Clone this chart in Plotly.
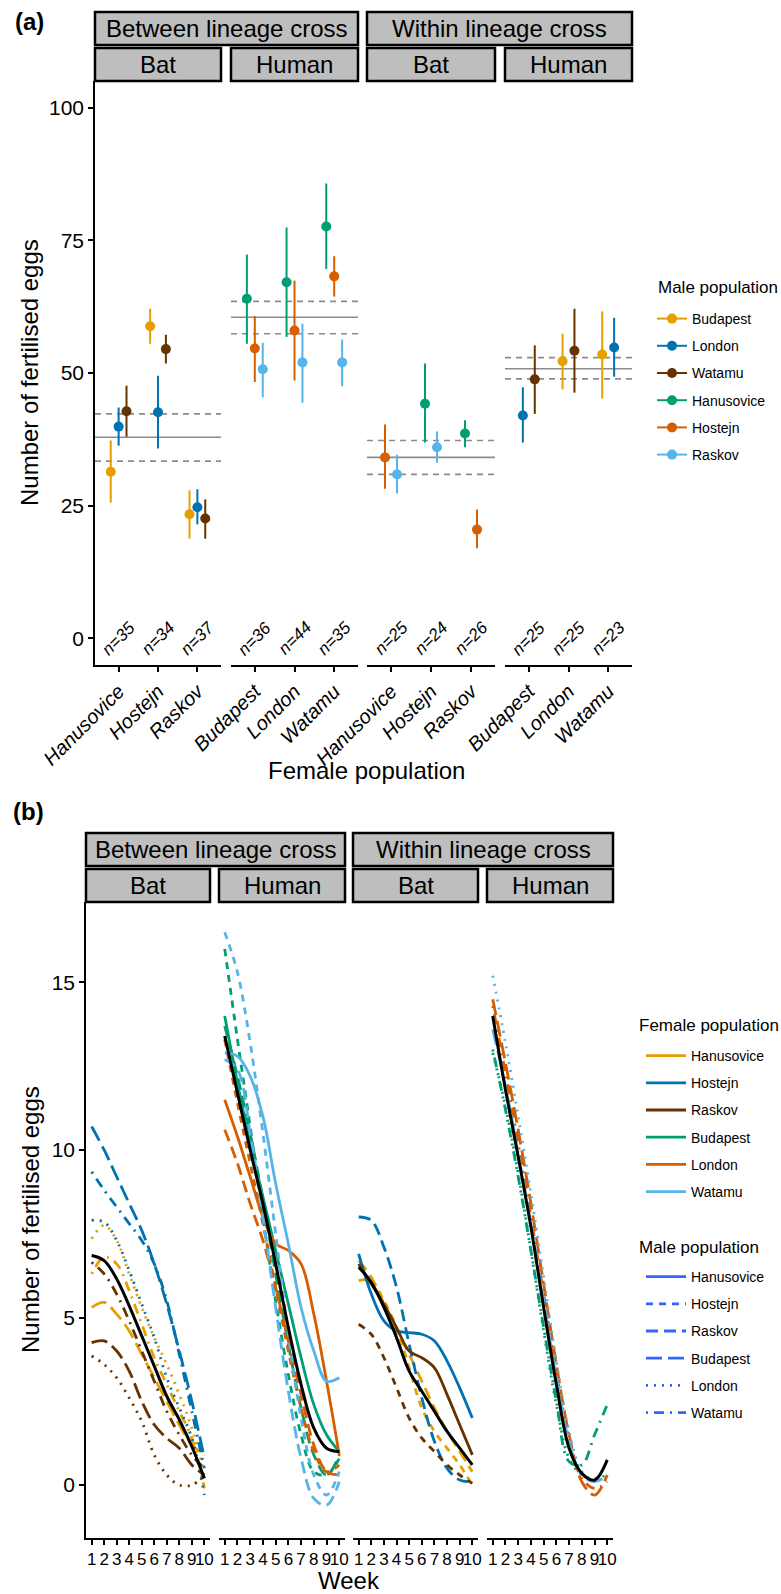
import plotly.graph_objects as go

W, H = 781, 1594
FONT = "Liberation Sans, Arial, Helvetica, sans-serif"

# ---------------- shared levels / palette ----------------
PALETTE = ["#E69F00", "#0072B2", "#663300", "#009E73", "#D55E00", "#56B4E9"]
MALE_LEVELS_A = ["Budapest", "London", "Watamu", "Hanusovice", "Hostejn", "Raskov"]
POP_LEVELS_B = ["Hanusovice", "Hostejn", "Raskov", "Budapest", "London", "Watamu"]
CROSS = ["Between lineage cross", "Within lineage cross"]
HOST = ["Bat", "Human", "Bat", "Human"]

# ---------------- panel (a) data ----------------
A1_FEMALE = ["Hanusovice", "Hostejn", "Raskov"]
A1_MEAN = {"Budapest": [31.4, 58.8, 23.4], "London": [39.9, 42.6, 24.7], "Watamu": [42.8, 54.5, 22.6]}
A1_LO = {"Budapest": [25.6, 55.5, 18.8], "London": [36.3, 35.8, 21.5], "Watamu": [38.0, 51.8, 18.8]}
A1_HI = {"Budapest": [37.3, 62.1, 27.9], "London": [43.5, 49.5, 28.1], "Watamu": [47.6, 57.2, 26.2]}

A2_FEMALE = ["Budapest", "London", "Watamu"]
A2_MEAN = {"Hanusovice": [64.0, 67.1, 77.6], "Hostejn": [54.6, 58.0, 68.2], "Raskov": [50.7, 52.0, 52.0]}
A2_LO = {"Hanusovice": [55.5, 56.8, 69.6], "Hostejn": [48.3, 48.6, 64.4], "Raskov": [45.4, 44.4, 47.5]}
A2_HI = {"Hanusovice": [72.3, 77.4, 85.7], "Hostejn": [60.7, 67.4, 72.0], "Raskov": [55.7, 59.3, 56.3]}

A3_FEMALE = ["Hanusovice", "Hostejn", "Raskov"]
A3_MEAN = {"Hanusovice": [None, 44.2, 38.6], "Hostejn": [34.1, None, 20.5], "Raskov": [30.9, 36.0, None]}
A3_LO = {"Hanusovice": [None, 36.9, 36.0], "Hostejn": [28.2, None, 17.0], "Raskov": [27.3, 33.1, None]}
A3_HI = {"Hanusovice": [None, 51.8, 41.1], "Hostejn": [40.3, None, 24.3], "Raskov": [34.6, 39.0, None]}

A4_FEMALE = ["Budapest", "London", "Watamu"]
A4_MEAN = {"Budapest": [None, 52.2, 53.5], "London": [42.0, None, 54.8], "Watamu": [48.8, 54.2, None]}
A4_LO = {"Budapest": [None, 46.9, 45.2], "London": [36.9, None, 49.3], "Watamu": [42.3, 46.3, None]}
A4_HI = {"Budapest": [None, 57.4, 61.6], "London": [47.3, None, 60.4], "Watamu": [55.2, 62.1, None]}

A_OVERALL = [37.9, 60.5, 34.1, 50.8]
A_OVERALL_LO = [33.4, 57.4, 30.9, 48.9]
A_OVERALL_HI = [42.3, 63.5, 37.3, 52.9]
A_N = [[35, 34, 37], [36, 44, 35], [25, 24, 26], [25, 25, 23]]
A_YTICKS = [0, 25, 50, 75, 100]

# ---------------- panel (b) data ----------------
WEEK = [1, 2, 3, 4, 5, 6, 7, 8, 9, 10]
B_YTICKS = [0, 5, 10, 15]

B1 = {  # (female, male)
    ("Hanusovice", "Budapest"): [5.3, 5.45, 5.1, 4.6, 3.9, 3.2, 2.5, 1.8, 1.2, 0.9],
    ("Hanusovice", "London"): [7.35, 7.75, 7.3, 6.3, 5.3, 4.4, 3.6, 2.7, 1.7, 0.4],
    ("Hanusovice", "Watamu"): [6.3, 6.8, 6.6, 5.8, 4.8, 3.8, 3.0, 2.2, 1.4, -0.1],
    ("Hostejn", "Budapest"): [10.7, 10.0, 9.2, 8.4, 7.6, 6.6, 5.4, 4.0, 2.5, 0.8],
    ("Hostejn", "London"): [7.9, 7.85, 7.3, 6.4, 5.4, 4.4, 3.2, 2.3, 1.4, -0.3],
    ("Hostejn", "Watamu"): [9.35, 8.8, 8.3, 7.8, 7.3, 6.6, 5.5, 3.9, 2.2, 0.5],
    ("Raskov", "Budapest"): [4.25, 4.3, 4.0, 3.4, 2.5, 1.8, 1.4, 1.1, 0.6, 0.3],
    ("Raskov", "London"): [3.85, 3.6, 3.2, 2.6, 1.9, 0.9, 0.3, 0.0, 0.0, 0.3],
    ("Raskov", "Watamu"): [6.65, 6.3, 5.7, 4.9, 4.0, 3.1, 2.2, 1.5, 0.9, 0.5],
}
B2 = {
    ("Budapest", "Hanusovice"): [14.0, 12.0, 10.2, 8.6, 7.0, 5.4, 3.8, 2.4, 1.5, 1.0],
    ("Budapest", "Hostejn"): [16.0, 13.3, 10.7, 8.0, 5.5, 3.3, 1.5, 0.4, 0.3, 0.8],
    ("Budapest", "Raskov"): [13.7, 12.2, 10.5, 8.5, 6.3, 4.2, 2.3, 0.9, 0.3, 0.9],
    ("London", "Hanusovice"): [11.5, 10.4, 9.2, 8.0, 7.2, 7.0, 6.6, 5.1, 3.1, 0.9],
    ("London", "Hostejn"): [13.3, 11.4, 9.6, 7.8, 5.9, 4.0, 2.3, 1.0, 0.4, 0.6],
    ("London", "Raskov"): [10.6, 9.6, 8.4, 7.3, 5.9, 4.3, 2.7, 1.2, 0.4, 0.3],
    ("Watamu", "Hanusovice"): [12.9, 12.8, 12.2, 11.0, 9.0, 7.2, 5.3, 4.0, 3.1, 3.2],
    ("Watamu", "Hostejn"): [16.5, 15.3, 13.2, 10.5, 7.5, 4.5, 2.0, 0.3, -0.3, 0.4],
    ("Watamu", "Raskov"): [12.7, 12.4, 10.5, 8.0, 5.3, 2.8, 0.8, -0.4, -0.6, 0.1],
}
B3 = {
    ("Hanusovice", "Hostejn"): [6.1, 6.1, 5.5, 4.7, 3.5, 2.3, 1.6, 1.1, 0.6, 0.0],
    ("Hanusovice", "Raskov"): [6.7, 6.2, 5.4, 4.6, 3.9, 3.1, 2.3, 1.6, 1.0, 0.4],
    ("Hostejn", "Hanusovice"): [6.9, 5.7, 4.9, 4.6, 4.55, 4.5, 4.3, 3.7, 2.9, 2.0],
    ("Hostejn", "Raskov"): [8.0, 7.9, 7.1, 5.9, 4.2, 2.6, 1.3, 0.5, 0.15, 0.1],
    ("Raskov", "Hanusovice"): [6.6, 6.0, 5.4, 4.7, 4.0, 3.8, 3.5, 2.7, 1.8, 0.9],
    ("Raskov", "Hostejn"): [4.8, 4.5, 3.8, 2.9, 2.0, 1.4, 1.0, 0.6, 0.3, 0.05],
}
B4 = {
    ("Budapest", "London"): [12.9, 11.3, 9.3, 7.0, 4.6, 2.4, 0.8, 0.3, 0.2, 0.3],
    ("Budapest", "Watamu"): [13.0, 11.2, 9.2, 7.0, 4.7, 2.5, 0.7, 0.6, 1.5, 2.4],
    ("London", "Budapest"): [14.5, 12.6, 10.6, 8.4, 6.0, 3.6, 1.5, 0.1, -0.3, 0.3],
    ("London", "Watamu"): [14.3, 12.3, 10.2, 8.0, 5.7, 3.4, 1.4, 0.2, -0.1, 0.1],
    ("Watamu", "Budapest"): [13.6, 11.9, 9.9, 7.8, 5.5, 3.2, 1.3, 0.3, 0.1, 0.3],
    ("Watamu", "London"): [15.2, 13.2, 11.0, 8.7, 6.2, 3.7, 1.6, 0.4, 0.1, 0.3],
}
B_MEAN = [
    [6.85, 6.7, 6.15, 5.35, 4.45, 3.55, 2.65, 1.95, 1.15, 0.2],
    [13.4, 11.7, 10.0, 8.4, 6.6, 4.7, 3.0, 1.7, 1.1, 1.0],
    [6.5, 6.05, 5.3, 4.4, 3.4, 2.8, 2.2, 1.6, 1.1, 0.6],
    [14.0, 11.8, 9.8, 7.7, 5.3, 3.0, 1.1, 0.35, 0.15, 0.75],
]

# ---------------- styling / geometry ----------------
MALE_DASH = {"Hanusovice": "solid", "Hostejn": "7px,6px", "Raskov": "12px,6px",
             "Budapest": "16px,6px", "London": "2px,6px", "Watamu": "2px,6px,10px,6px"}
A_XPX = [(95, 221), (231, 358), (367, 495), (505, 632)]
B_XPX = [(86, 210), (219, 345), (353, 478), (487, 613)]
A_YPX = (81, 665)
B_YPX = (902, 1538)


def fx(p):
    return p / W


def fy(p):
    return 1 - p / H


def sfx(k):
    return "" if k == 1 else str(k)


fig = go.Figure()
layout = {}
axis_style = dict(showline=True, linecolor="black", linewidth=1.5, ticks="outside",
                  ticklen=5, tickwidth=1.5, tickcolor="black", showgrid=False, zeroline=False,
                  automargin=False, tickfont=dict(size=20, color="black", family=FONT))
noaxis = dict(showline=False, ticks="", showticklabels=False, showgrid=False, zeroline=False,
              automargin=False)

a_females = [A1_FEMALE, A2_FEMALE, A3_FEMALE, A4_FEMALE]
a_means = [A1_MEAN, A2_MEAN, A3_MEAN, A4_MEAN]
a_los = [A1_LO, A2_LO, A3_LO, A4_LO]
a_his = [A1_HI, A2_HI, A3_HI, A4_HI]

# ---- axes panel (a)
for i in range(4):
    k = i + 1
    s = sfx(k)
    layout[f"xaxis{s}"] = dict(domain=[fx(A_XPX[i][0]), fx(A_XPX[i][1])], anchor=f"y{s}",
                               range=[0.4, 3.6], tickmode="array", tickvals=[1, 2, 3],
                               ticktext=[f"<i>{f}</i>" for f in a_females[i]], tickangle=-45,
                               **axis_style)
    yd = dict(domain=[fy(A_YPX[1]), fy(A_YPX[0])], anchor=f"x{s}", range=[-5, 105])
    if i == 0:
        yd.update(tickmode="array", tickvals=A_YTICKS, **axis_style)
        yd["tickfont"] = dict(size=21, color="black", family=FONT)
    else:
        yd.update(**noaxis)
    layout[f"yaxis{s}"] = yd

# ---- axes panel (b)
for i in range(4):
    k = i + 5
    layout[f"xaxis{k}"] = dict(domain=[fx(B_XPX[i][0]), fx(B_XPX[i][1])], anchor=f"y{k}",
                               range=[0.55, 10.45], tickmode="array", tickvals=WEEK,
                               tickangle=0, **axis_style)
    layout[f"xaxis{k}"]["tickfont"] = dict(size=17, color="black", family=FONT)
    yd = dict(domain=[fy(B_YPX[1]), fy(B_YPX[0])], anchor=f"x{k}", range=[-1.58, 17.4])
    if i == 0:
        yd.update(tickmode="array", tickvals=B_YTICKS, **axis_style)
        yd["tickfont"] = dict(size=21, color="black", family=FONT)
    else:
        yd.update(**noaxis)
    layout[f"yaxis{k}"] = yd

shapes = []
annotations = []

# ---- panel (a) traces
for i in range(4):
    s = sfx(i + 1)
    females = a_females[i]
    males_present = [m for m in MALE_LEVELS_A if m in a_means[i]]
    for m in males_present:
        xs, ys, ep, em = [], [], [], []
        for j, f in enumerate(females):
            present = [mm for mm in males_present if a_means[i][mm][j] is not None]
            if a_means[i][m][j] is None:
                continue
            n = len(present)
            idx = present.index(m)
            off = (idx - (n - 1) / 2) * (0.6 / n)
            xs.append(j + 1 + off)
            ys.append(a_means[i][m][j])
            ep.append(a_his[i][m][j] - a_means[i][m][j])
            em.append(a_means[i][m][j] - a_los[i][m][j])
        col = PALETTE[MALE_LEVELS_A.index(m)]
        fig.add_trace(go.Scatter(x=xs, y=ys, mode="markers", xaxis=f"x{s}", yaxis=f"y{s}",
                                 marker=dict(color=col, size=10),
                                 error_y=dict(type="data", symmetric=False, array=ep, arrayminus=em,
                                              width=0, thickness=2, color=col),
                                 showlegend=False, hoverinfo="skip"))
    for val, dash in [(A_OVERALL[i], "solid"), (A_OVERALL_LO[i], "6px,5px"), (A_OVERALL_HI[i], "6px,5px")]:
        shapes.append(dict(type="line", xref=f"x{s} domain", x0=0, x1=1, yref=f"y{s}", y0=val, y1=val,
                           line=dict(color="#8C8C8C", width=1.6, dash=dash), layer="below"))
    for j, nval in enumerate(A_N[i]):
        annotations.append(dict(x=j + 1, y=0, xref=f"x{s}", yref=f"y{s}", text=f"<i>n={nval}</i>",
                                textangle=-45, showarrow=False,
                                font=dict(size=17, color="black", family=FONT)))

# legend (a)
for gi, m in enumerate(MALE_LEVELS_A):
    col = PALETTE[gi]
    fig.add_trace(go.Scatter(x=[None], y=[None], mode="lines+markers", name=m, xaxis="x", yaxis="y",
                             line=dict(color=col, width=2), marker=dict(color=col, size=10),
                             legend="legend", legendgroup=f"a{gi}", showlegend=True))

# ---- panel (b) traces
b_sets = [B1, B2, B3, B4]
for i in range(4):
    k = i + 5
    for (f, m), vals in b_sets[i].items():
        col = PALETTE[POP_LEVELS_B.index(f)]
        fig.add_trace(go.Scatter(x=WEEK, y=vals, mode="lines", xaxis=f"x{k}", yaxis=f"y{k}",
                                 line=dict(color=col, width=2.8, dash=MALE_DASH[m], shape="spline",
                                           smoothing=1.0),
                                 showlegend=False, hoverinfo="skip"))
    fig.add_trace(go.Scatter(x=WEEK, y=B_MEAN[i], mode="lines", xaxis=f"x{k}", yaxis=f"y{k}",
                             line=dict(color="black", width=3, shape="spline", smoothing=1.0),
                             showlegend=False, hoverinfo="skip"))

for gi, f in enumerate(POP_LEVELS_B):
    fig.add_trace(go.Scatter(x=[None], y=[None], mode="lines", name=f, xaxis="x5", yaxis="y5",
                             line=dict(color=PALETTE[gi], width=2.8),
                             legend="legend2", legendgroup=f"f{gi}", showlegend=True))
for gi, m in enumerate(POP_LEVELS_B):
    fig.add_trace(go.Scatter(x=[None], y=[None], mode="lines", name=m, xaxis="x5", yaxis="y5",
                             line=dict(color="#3366FF", width=2.8, dash=MALE_DASH[m]),
                             legend="legend3", legendgroup=f"m{gi}", showlegend=True))


# ---- strips
def strip(x0, x1, y0, y1, text):
    shapes.append(dict(type="rect", xref="paper", yref="paper", x0=fx(x0), x1=fx(x1),
                       y0=fy(y1), y1=fy(y0), fillcolor="#BEBEBE",
                       line=dict(color="black", width=2.5), layer="above"))
    annotations.append(dict(x=fx((x0 + x1) / 2), y=fy((y0 + y1) / 2), xref="paper", yref="paper",
                            text=text, showarrow=False, xanchor="center", yanchor="middle",
                            font=dict(size=24, color="black", family=FONT)))


for XP, (r1a, r1b), (r2a, r2b) in [(A_XPX, (12, 45), (48, 81)), (B_XPX, (833, 866), (869, 902))]:
    strip(XP[0][0], XP[1][1], r1a, r1b, CROSS[0])
    strip(XP[2][0], XP[3][1], r1a, r1b, CROSS[1])
    for i in range(4):
        strip(XP[i][0], XP[i][1], r2a, r2b, HOST[i])


# ---- titles and panel labels
def text(x, y, t, size, angle=0, bold=False, anchor="center"):
    annotations.append(dict(x=fx(x), y=fy(y), xref="paper", yref="paper",
                            text=f"<b>{t}</b>" if bold else t, showarrow=False, textangle=angle,
                            xanchor=anchor, yanchor="middle",
                            font=dict(size=size, color="black", family=FONT)))


text(29, 22, "(a)", 24, bold=True)
text(28, 811, "(b)", 24, bold=True)
text(30, 373, "Number of fertilised eggs", 24, angle=-90)
text(30, 1220, "Number of fertilised eggs", 24, angle=-90)
text(366, 771, "Female population", 24)
text(349, 1580, "Week", 24)
# legend titles
text(656, 287, "Male population", 17, anchor="left")
text(637, 1025, "Female population", 17, anchor="left")
text(637, 1247, "Male population", 17, anchor="left")

leg_common = dict(xanchor="left", yanchor="top", bgcolor="rgba(0,0,0,0)", borderwidth=0,
                  font=dict(size=14, color="black", family=FONT), tracegroupgap=6)
fig.update_layout(
    template="none",
    width=W, height=H, margin=dict(l=0, r=0, t=0, b=0, autoexpand=False),
    paper_bgcolor="white", plot_bgcolor="white",
    font=dict(family=FONT, color="black"),
    shapes=shapes, annotations=annotations,
    legend=dict(x=fx(652), y=fy(303), itemwidth=30, **leg_common),
    legend2=dict(x=fx(641), y=fy(1040), itemwidth=40, **leg_common),
    legend3=dict(x=fx(641), y=fy(1261), itemwidth=40, **leg_common),
    **layout,
)

fig.write_html("out.html")
